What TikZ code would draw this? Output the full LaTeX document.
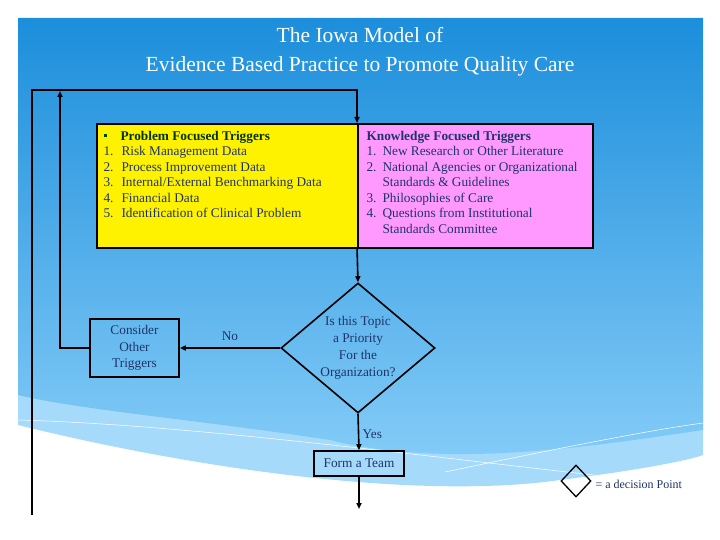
\documentclass[tikz,border=0pt]{standalone}
\usepackage{fontspec}
\setmainfont{Liberation Serif}
\usetikzlibrary{shapes.geometric,arrows.meta}
\definecolor{navy}{HTML}{1F3468}
\definecolor{bluetop}{HTML}{1C8EDB}
\definecolor{bluebot}{HTML}{86CDF8}
\definecolor{bluelight}{HTML}{A6DAFA}
\definecolor{pinkbox}{HTML}{FF99FF}
\begin{document}
\begin{tikzpicture}[x=1pt,y=-1pt,
  ln/.style={line width=1.6pt,black},
  arr/.style={ln,-{Triangle[length=6pt,width=5pt]}},
  txt/.style={font=\fontsize{13.3}{16.8}\selectfont,text=navy},
  bx/.style={draw=black,line width=1.6pt}]
\useasboundingbox (0,0) rectangle (720,540);
\fill[white] (0,0) rectangle (720,540);
% background
\fill[bluelight] (18,425) .. controls (200,470) and (420,500) .. (560,480) .. controls (640,470) and (690,460) .. (703,455) -- (703,370) -- (18,370) -- cycle;
\shade[top color=bluetop,bottom color=bluebot] (18,18) -- (703,18) -- (703,430) .. controls (600,445) and (450,470) .. (330,440) .. controls (200,420) and (80,410) .. (18,395) -- cycle;
\draw[white,line width=0.5pt] (18,420) .. controls (200,425) and (450,460) .. (640,480);
\draw[white,line width=0.5pt] (445,472) .. controls (550,450) and (650,430) .. (703,423);
% title
\node[text=white,font=\fontsize{21.5}{29}\selectfont,align=center] (title) at (360,52) {The Iowa Model of\\Evidence Based Practice to Promote Quality Care};
% boxes
\node[bx,fill=yellow,minimum width=261,minimum height=124,anchor=north west,inner sep=0] (pb) at (96,123) {};
\node[bx,fill=pinkbox,minimum width=235,minimum height=124,anchor=north west,inner sep=0] (kb) at (357,123) {};
\node[txt,anchor=north west,align=left] (pt) at (100,125) {%
\begin{tabular}{@{}l@{\hspace{8pt}}l@{}}
\textcolor{black!75!green}{\rule[3pt]{3pt}{3pt}} & \hspace{-1pt}\textbf{\textcolor{black!80!green}{Problem Focused Triggers}}\\[-1.3pt]
1. & Risk Management Data\\[-1.3pt]
2. & Process Improvement Data\\[-1.3pt]
3. & Internal/External Benchmarking Data\\[-1.3pt]
4. & Financial Data\\[-1.3pt]
5. & Identification of Clinical Problem
\end{tabular}};
\node[txt,anchor=north west,align=left] (kt) at (363,125) {%
\begin{tabular}{@{}l@{\hspace{6pt}}l@{}}
\multicolumn{2}{@{}l}{\textbf{Knowledge Focused Triggers}}\\[-1.3pt]
1. & New Research or Other Literature\\[-1.3pt]
2. & National Agencies or Organizational\\[-1.3pt]
 & Standards \& Guidelines\\[-1.3pt]
3. & Philosophies of Care\\[-1.3pt]
4. & Questions from Institutional\\[-1.3pt]
 & Standards Committee
\end{tabular}};
\node[diamond,bx,minimum width=154,minimum height=130,inner sep=0] (dec) at (358,348) {};
\node[txt,align=center] (dect) at (358,348) {Is this Topic\\a Priority\\For the\\Organization?};
\node[bx,minimum width=89,minimum height=58,inner sep=0,txt,align=center] (cons) at (134.5,348) {Consider\\Other\\Triggers};
\node[bx,minimum width=90,minimum height=25,inner sep=0,txt] (team) at (359,463.5) {Form a Team};
\coordinate (tend) at (359,509);
\coordinate (top) at (357,123);
\coordinate (bot) at (357,247);
% connectors
\draw[arr] (bot) -- (dec.north);
\draw[arr] (dec.west) -- node[txt,above=3pt] (no) {No} (cons.east);
\draw[arr] (dec.south) -- node[txt,right,pos=0.55] (yes) {Yes} (team.north);
\draw[arr] (team.south) -- (tend);
\draw[arr] (cons.west) -- (60,348) -- (60,91);
\draw[arr] (32,515) -- (32,90) -- (357,90) -- (top);
% legend
\node[diamond,bx,line width=1.3pt,minimum width=30,minimum height=32,inner sep=0] (leg) at (576,481) {};
\node[txt,font=\fontsize{12}{14}\selectfont,anchor=west] (legt) at (592,484) {= a decision Point};
\end{tikzpicture}
\end{document}
